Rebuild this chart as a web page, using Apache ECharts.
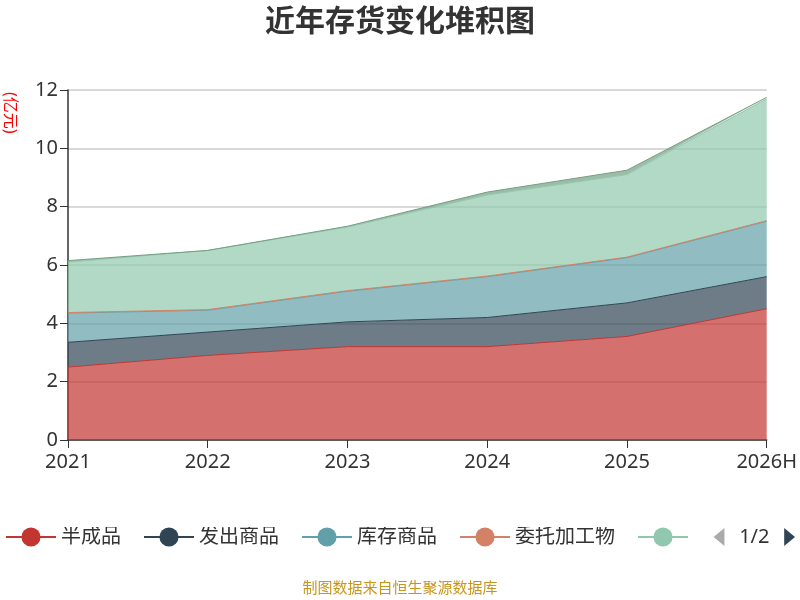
<!DOCTYPE html><html><head><meta charset="utf-8"><script src="https://cdn.jsdelivr.net/npm/echarts@6/dist/echarts.min.js"></script>
<style>html,body{margin:0;padding:0}#c{width:800px;height:600px}</style></head><body><div id="c"></div><script>
const categories=['2021','2022','2023','2024','2025','2026H'];
const names=['半成品','发出商品','库存商品','委托加工物','原材料','在产品'];
const s1=[2.5,2.9,3.2,3.2,3.55,4.5];
const s2=[0.85,0.8,0.85,1.0,1.15,1.1];
const s3=[1.0,0.75,1.05,1.4,1.55,1.9];
const s4=[0.02,0.02,0.02,0.02,0.02,0.02];
const s5=[1.73,2.03,2.18,2.78,2.83,4.18];
const s6=[0.05,0.0,0.03,0.1,0.15,0.05];
const all=[s1,s2,s3,s4,s5,s6];
const colors=['#c23531','#2f4554','#61a0a8','#d48265','#91c7ae','#749f83'];
const F='"Noto Sans","Noto Sans CJK SC",sans-serif';
const ch=echarts.init(document.getElementById('c'));
ch.setOption({
 color:colors,
 textStyle:{fontFamily:F},
 title:{text:'近年存货变化堆积图',left:'center',top:2,textStyle:{fontSize:30,fontWeight:'bold',color:'#333',fontFamily:F}},
 legend:{type:'scroll',bottom:48,left:0,right:0,itemWidth:50,itemHeight:24,itemGap:22,textStyle:{fontSize:20,color:'#333',fontFamily:F},pageIconSize:18,pageTextStyle:{fontSize:20,color:'#333'},pageIconColor:'#2f4554',pageIconInactiveColor:'#aaa',data:names},
 grid:{left:68,right:32,top:90,bottom:160},
 xAxis:{type:'category',boundaryGap:false,data:categories,axisLine:{lineStyle:{color:'#333',width:1.5}},axisTick:{length:8,lineStyle:{color:'#333'}},axisLabel:{fontSize:20,color:'#333',margin:12,fontFamily:F}},
 yAxis:{type:'value',min:0,max:12,interval:2,axisLine:{show:true,lineStyle:{color:'#333',width:1.5}},axisTick:{show:true,length:8,lineStyle:{color:'#333'}},axisLabel:{fontSize:20,color:'#333',margin:10,fontFamily:F},splitLine:{lineStyle:{color:'#ccc',width:1.5}}},
 series:all.map((d,i)=>({name:names[i],type:'line',stack:'t',data:d,symbol:'circle',symbolSize:8,showSymbol:false,lineStyle:{width:1},areaStyle:{opacity:0.7}})),
 graphic:[
  {type:'text',x:18,y:92,rotation:-Math.PI/2,style:{text:'(亿元)',fill:'red',fontSize:16,fontFamily:F}},
  {type:'text',left:'center',bottom:4,style:{text:'制图数据来自恒生聚源数据库',fill:'#c8961e',fontSize:15,fontFamily:F}}]
});
</script></body></html>
